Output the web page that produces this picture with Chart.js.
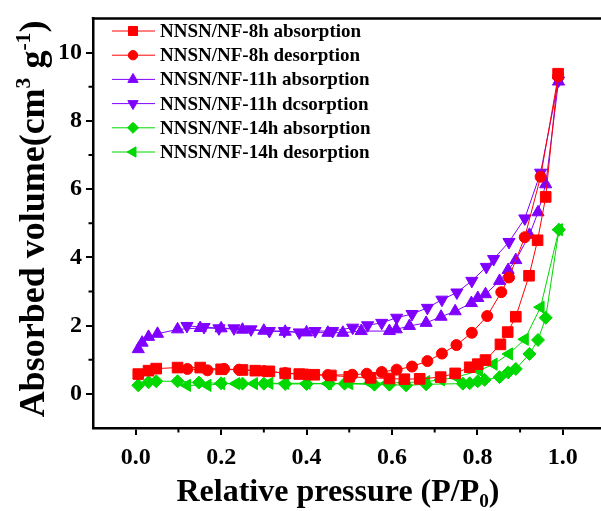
<!DOCTYPE html>
<html>
<head>
<meta charset="utf-8">
<script src="https://cdn.jsdelivr.net/npm/chart.js@4"></script>
<style>
  html, body { margin: 0; padding: 0; background: #fff; overflow: hidden; }
  canvas { display: block; }
</style>
</head>
<body>
<canvas id="chart" width="614" height="511"></canvas>
<script>
/* ===== data ===== */
const labels = [
  "NNSN/NF-8h absorption",
  "NNSN/NF-8h desorption",
  "NNSN/NF-11h absorption",
  "NNSN/NF-11h dcsorption",
  "NNSN/NF-14h absorption",
  "NNSN/NF-14h desorption"
];

const p8hAds = [0.006,0.03,0.048,0.098,0.151,0.2,0.25,0.28,0.313,0.35,0.383,0.418,0.457,0.5,0.55,0.594,0.629,0.665,0.714,0.748,0.782,0.801,0.819,0.854,0.871,0.89,0.921,0.941,0.96,0.989];
const v8hAds = [0.58,0.68,0.74,0.77,0.77,0.72,0.70,0.68,0.66,0.60,0.58,0.56,0.54,0.50,0.47,0.45,0.43,0.44,0.49,0.60,0.78,0.87,0.99,1.45,1.81,2.26,3.46,4.50,5.77,9.38];

const p8hDes = [0.989,0.948,0.911,0.874,0.856,0.823,0.787,0.751,0.717,0.683,0.647,0.611,0.576,0.541,0.507,0.45,0.40,0.35,0.30,0.242,0.207,0.168,0.121];
const v8hDes = [9.30,6.36,4.59,3.41,2.98,2.28,1.79,1.43,1.18,0.96,0.80,0.71,0.64,0.59,0.56,0.55,0.57,0.61,0.67,0.71,0.73,0.69,0.73];

const p11hAds = [0.006,0.015,0.03,0.051,0.098,0.151,0.2,0.25,0.3,0.35,0.4,0.45,0.485,0.528,0.594,0.61,0.641,0.68,0.715,0.748,0.786,0.801,0.819,0.852,0.872,0.89,0.922,0.942,0.96,0.99];
const v11hAds = [1.31,1.50,1.67,1.76,1.89,1.93,1.92,1.88,1.85,1.82,1.80,1.79,1.79,1.84,1.84,1.89,1.99,2.08,2.26,2.42,2.66,2.81,2.92,3.31,3.63,3.92,4.66,5.32,6.14,9.15];

const p11hDes = [0.99,0.948,0.911,0.874,0.838,0.821,0.787,0.752,0.717,0.683,0.647,0.611,0.576,0.543,0.508,0.461,0.42,0.383,0.348,0.313,0.27,0.23,0.195,0.16,0.12];
const v11hDes = [9.18,6.48,5.14,4.45,3.95,3.72,3.31,2.97,2.76,2.52,2.34,2.23,2.08,2.01,1.94,1.84,1.84,1.80,1.84,1.84,1.89,1.92,1.92,1.96,1.99];

const p14hAds = [0.006,0.03,0.048,0.098,0.148,0.2,0.25,0.3,0.35,0.4,0.453,0.489,0.559,0.594,0.633,0.68,0.766,0.782,0.801,0.817,0.852,0.872,0.89,0.922,0.942,0.96,0.991];
const v14hAds = [0.25,0.34,0.37,0.37,0.33,0.31,0.30,0.30,0.29,0.29,0.30,0.30,0.27,0.27,0.25,0.28,0.30,0.31,0.37,0.41,0.49,0.63,0.73,1.17,1.58,2.23,4.81];

const p14hDes = [0.991,0.948,0.911,0.874,0.838,0.804,0.751,0.715,0.68,0.63,0.59,0.55,0.5,0.45,0.4,0.35,0.313,0.277,0.235,0.2,0.168,0.12];
const v14hDes = [4.81,2.54,1.60,1.17,0.87,0.68,0.49,0.41,0.36,0.33,0.32,0.31,0.30,0.30,0.31,0.31,0.31,0.30,0.30,0.30,0.25,0.25];

const xTicks = [0, 0.2, 0.4, 0.6, 0.8, 1.0];
const xMinor = [0.1, 0.3, 0.5, 0.7, 0.9];
const yTicks = [0, 2, 4, 6, 8, 10];
const yMinor = [1, 3, 5, 7, 9];

/* ===== styles ===== */
const RED = "#ff0000", VIOLET = "#8000ff", GREEN = "#00d800";
const FONT = "'Liberation Serif', 'Times New Roman', serif";

function pts(xs, ys) {
  return xs.map((x, i) => ({ x: x, y: ys[i] }));
}

function series(i, xs, ys, color, style, rot, r) {
  return {
    label: labels[i],
    data: pts(xs, ys),
    showLine: true,
    borderColor: color,
    borderWidth: 1,
    backgroundColor: color,
    pointStyle: style,
    rotation: rot,
    pointRadius: r,
    pointHoverRadius: r,
    pointBorderWidth: 1,
    pointBorderColor: color,
    pointBackgroundColor: color
  };
}

const datasets = [
  series(0, p8hAds, v8hAds, RED, "rect", 0, 7.5),
  series(1, p8hDes, v8hDes, RED, "circle", 0, 5.5),
  series(2, p11hAds, v11hAds, VIOLET, "triangle", 0, 7),
  series(3, p11hDes, v11hDes, VIOLET, "triangle", 180, 7),
  series(4, p14hAds, v14hAds, GREEN, "rectRot", 0, 6.5),
  series(5, p14hDes, v14hDes, GREEN, "triangle", -90, 7)
];

/* ===== text with sub/superscripts ===== */
function richText(ctx, parts, cx, baseY, size) {
  let total = 0;
  parts.forEach(p => {
    ctx.font = "bold " + (p.small ? size * 0.6 : size) + "px " + FONT;
    p.w = ctx.measureText(p.t).width;
    total += p.w;
  });
  let x = cx - total / 2;
  ctx.textAlign = "left";
  ctx.textBaseline = "alphabetic";
  parts.forEach(p => {
    ctx.font = "bold " + (p.small ? size * 0.6 : size) + "px " + FONT;
    ctx.fillText(p.t, x, baseY + (p.dy || 0) * size);
    x += p.w;
  });
}

const overlay = {
  id: "overlay",
  afterDraw(chart) {
    const { ctx, chartArea: a, scales } = chart;
    const sx = scales.x, sy = scales.y;
    ctx.save();

    // top frame line (right side falls outside the picture)
    ctx.strokeStyle = "#000";
    ctx.lineWidth = 2.5;
    ctx.beginPath();
    ctx.moveTo(a.left - 1.2, a.top);
    ctx.lineTo(a.right + 10, a.top);
    ctx.stroke();

    // minor ticks
    ctx.lineWidth = 2;
    ctx.beginPath();
    xMinor.forEach(v => {
      const p = sx.getPixelForValue(v);
      ctx.moveTo(p, a.bottom);
      ctx.lineTo(p, a.bottom + 4.5);
    });
    yMinor.forEach(v => {
      const p = sy.getPixelForValue(v);
      ctx.moveTo(a.left, p);
      ctx.lineTo(a.left - 4.5, p);
    });
    ctx.stroke();

    // legend
    chart.data.datasets.forEach((ds, i) => {
      const y = 31 + i * 24.2;
      ctx.strokeStyle = ds.borderColor;
      ctx.lineWidth = 1;
      ctx.beginPath();
      ctx.moveTo(112, y);
      ctx.lineTo(155, y);
      ctx.stroke();
      ctx.fillStyle = ds.pointBackgroundColor;
      ctx.strokeStyle = ds.pointBorderColor;
      Chart.helpers.drawPoint(ctx, {
        pointStyle: ds.pointStyle,
        rotation: ds.rotation,
        radius: ds.pointRadius * 0.85,
        borderWidth: 1
      }, 133, y);
      ctx.fillStyle = "#000";
      ctx.font = "bold 19px " + FONT;
      ctx.textAlign = "left";
      ctx.textBaseline = "middle";
      ctx.fillText(ds.label, 160, y + 1);
    });

    // axis titles
    ctx.fillStyle = "#000";
    richText(ctx, [
      { t: "Relative pressure (P/P" },
      { t: "0", small: true, dy: 0.2 },
      { t: ")" }
    ], 338, 501, 32);

    ctx.translate(44, 219);
    ctx.rotate(-Math.PI / 2);
    richText(ctx, [
      { t: "Absorbed volume(cm" },
      { t: "3", small: true, dy: -0.38 },
      { t: " g" },
      { t: "-1", small: true, dy: -0.38 },
      { t: ")" }
    ], 0, 0, 36);

    ctx.restore();
  }
};

new Chart(document.getElementById("chart"), {
  type: "scatter",
  data: { datasets: datasets },
  options: {
    responsive: false,
    animation: false,
    events: [],
    layout: { padding: { top: 14, right: 2, left: 0, bottom: 0 } },
    plugins: {
      legend: { display: false },
      tooltip: { enabled: false }
    },
    scales: {
      x: {
        type: "linear",
        min: -0.1,
        max: 1.1,
        afterFit: s => { s.height = 83; },
        afterBuildTicks: s => { s.ticks = xTicks.map(v => ({ value: v })); },
        border: { color: "#000", width: 2.5 },
        grid: { drawOnChartArea: false, color: "#000", lineWidth: 2, tickLength: 7 },
        ticks: {
          color: "#000",
          padding: 8,
          font: { family: FONT, size: 24, weight: "bold" },
          callback: v => v.toFixed(1)
        }
      },
      y: {
        type: "linear",
        min: -1,
        max: 11,
        afterFit: s => { s.width = 93; },
        afterBuildTicks: s => { s.ticks = yTicks.map(v => ({ value: v })); },
        border: { color: "#000", width: 2.5 },
        grid: { drawOnChartArea: false, color: "#000", lineWidth: 2, tickLength: 7 },
        ticks: {
          color: "#000",
          padding: 4,
          font: { family: FONT, size: 24, weight: "bold" },
          callback: v => String(v)
        }
      }
    }
  },
  plugins: [overlay]
});
</script>
</body>
</html>
